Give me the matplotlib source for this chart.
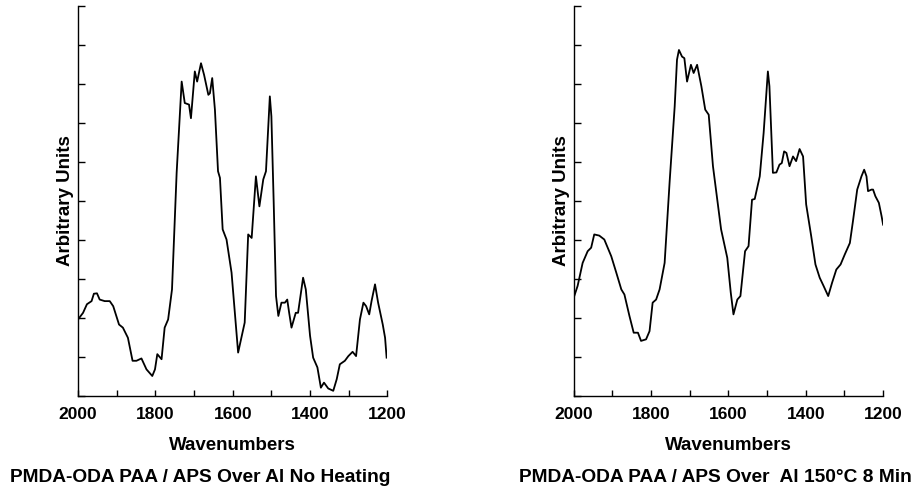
#!/usr/bin/env python3
"""Two FTIR spectra of PMDA-ODA PAA / APS over Al, side by side."""

import matplotlib
matplotlib.use("Agg")
import matplotlib.pyplot as plt
from matplotlib.ticker import MultipleLocator

# spectrum (no heating)
wn_no_heat = [2000, 1987, 1977, 1965, 1959, 1951, 1944, 1931, 1918, 1909, 1894,
              1884, 1871, 1859, 1849, 1836, 1823, 1808, 1801, 1795, 1784, 1776,
              1767, 1757, 1745, 1732, 1724, 1713, 1708, 1698, 1692, 1682, 1674,
              1663, 1659, 1653, 1646, 1638, 1633, 1626, 1616, 1603, 1586, 1569,
              1560, 1551, 1540, 1531, 1521, 1514, 1504, 1500, 1494, 1488, 1482,
              1474, 1465, 1459, 1454, 1448, 1437, 1431, 1418, 1411, 1400, 1392,
              1381, 1372, 1364, 1353, 1340, 1331, 1323, 1310, 1301, 1290, 1281,
              1271, 1262, 1255, 1247, 1241, 1232, 1224, 1212, 1206, 1202]
abs_no_heat = [1.96, 2.13, 2.35, 2.43, 2.62, 2.63, 2.47, 2.43, 2.43, 2.30, 1.83,
               1.75, 1.49, 0.90, 0.90, 0.96, 0.68, 0.51, 0.68, 1.07, 0.94, 1.75,
               1.96, 2.73, 5.72, 8.06, 7.51, 7.47, 7.12, 8.32, 8.06, 8.53, 8.23,
               7.72, 7.76, 8.15, 7.34, 5.76, 5.59, 4.27, 4.01, 3.16, 1.11, 1.88,
               4.14, 4.05, 5.63, 4.86, 5.55, 5.76, 7.68, 7.17, 4.95, 2.56, 2.05,
               2.39, 2.39, 2.47, 2.13, 1.75, 2.13, 2.13, 3.03, 2.73, 1.54, 0.98,
               0.73, 0.21, 0.34, 0.19, 0.13, 0.43, 0.81, 0.90, 1.02, 1.13, 1.02,
               1.96, 2.39, 2.30, 2.09, 2.43, 2.86, 2.39, 1.83, 1.49, 0.98]

# spectrum (150 C, 8 min)
wn_150c = [2000, 1990, 1977, 1964, 1955, 1947, 1934, 1921, 1903, 1890, 1877,
           1869, 1856, 1845, 1834, 1826, 1813, 1804, 1796, 1787, 1778, 1765,
           1752, 1739, 1733, 1728, 1720, 1714, 1707, 1697, 1690, 1681, 1670,
           1660, 1651, 1640, 1619, 1603, 1594, 1587, 1577, 1569, 1557, 1548,
           1539, 1532, 1519, 1509, 1498, 1494, 1485, 1476, 1468, 1462, 1456,
           1450, 1442, 1433, 1425, 1416, 1407, 1399, 1386, 1375, 1364, 1354,
           1342, 1332, 1321, 1310, 1299, 1286, 1278, 1267, 1256, 1249, 1243,
           1239, 1230, 1226, 1220, 1211, 1204, 1200]
abs_150c = [2.52, 2.82, 3.41, 3.71, 3.80, 4.14, 4.11, 4.01, 3.58, 3.16, 2.73,
            2.60, 2.05, 1.62, 1.62, 1.41, 1.45, 1.66, 2.39, 2.47, 2.73, 3.41,
            5.50, 7.42, 8.62, 8.87, 8.70, 8.66, 8.06, 8.49, 8.28, 8.49, 7.94,
            7.34, 7.21, 5.89, 4.27, 3.54, 2.65, 2.09, 2.47, 2.56, 3.71, 3.84,
            5.03, 5.05, 5.63, 6.74, 8.32, 7.94, 5.72, 5.73, 5.93, 5.97, 6.27,
            6.23, 5.89, 6.14, 6.02, 6.33, 6.14, 4.91, 4.10, 3.37, 3.03, 2.82,
            2.56, 2.90, 3.24, 3.37, 3.63, 3.92, 4.48, 5.29, 5.63, 5.80, 5.63,
            5.25, 5.29, 5.29, 5.12, 4.95, 4.61, 4.39]

captions = ["PMDA-ODA PAA / APS Over Al No Heating",
            "PMDA-ODA PAA / APS Over  Al 150\u00b0C 8 Min"]

plt.rcParams["font.family"] = ["Liberation Sans", "DejaVu Sans"]
plt.rcParams["font.weight"] = "bold"


def draw_panel(fig, rect, wn, vals, caption, caption_x):
    ax = fig.add_axes(rect)
    ax.plot(wn, vals, color="black", lw=1.3)
    ax.set_xlim(2000, 1200)
    ax.set_ylim(0, 10)
    ax.spines["top"].set_visible(False)
    ax.spines["right"].set_visible(False)
    for side in ("left", "bottom"):
        ax.spines[side].set_linewidth(1.0)
    ax.xaxis.set_major_locator(MultipleLocator(200))
    ax.xaxis.set_minor_locator(MultipleLocator(100))
    ax.yaxis.set_major_locator(MultipleLocator(1))
    ax.set_yticklabels([])
    ax.tick_params(axis="both", which="both", direction="in", length=4,
                   width=1.0, labelsize=12.5, pad=8)
    ax.tick_params(axis="y", length=5)
    ax.set_xlabel("Wavenumbers", fontsize=13.5, fontweight="bold", labelpad=11)
    ax.set_ylabel("Arbitrary Units", fontsize=13.5, fontweight="bold", labelpad=-5)
    fig.text(caption_x, 1 - 477 / 493, caption, ha="center", va="center",
             fontsize=13.8, fontweight="bold")
    return ax


def main() -> None:
    fig = plt.figure(figsize=(9.18, 4.93), dpi=100)
    draw_panel(fig, [0.085, 0.197, 0.337, 0.791], wn_no_heat, abs_no_heat,
               captions[0], 200 / 918)
    draw_panel(fig, [0.625, 0.197, 0.337, 0.791], wn_150c, abs_150c,
               captions[1], 715 / 918)
    fig.savefig("out.png", dpi=100)


if __name__ == "__main__":
    main()
